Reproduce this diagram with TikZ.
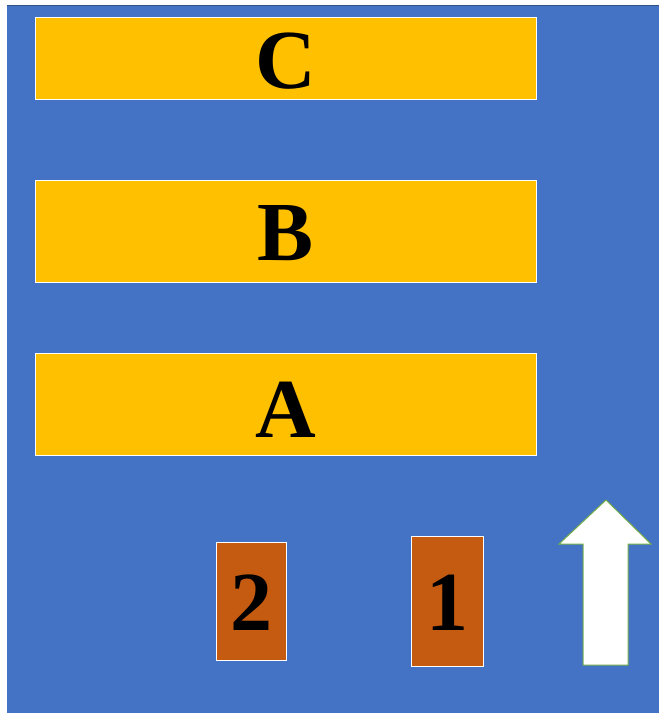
\documentclass[tikz,border=0pt]{standalone}
\usepackage{fontspec}
\setmainfont{Liberation Serif}
\definecolor{bgblue}{HTML}{4472C4}
\definecolor{bargold}{HTML}{FFC000}
\definecolor{boxorange}{HTML}{C55A11}
\definecolor{arrowgreen}{HTML}{70AD47}
\begin{document}
\begin{tikzpicture}[x=1pt,y=-1pt,
  bar/.style={fill=bargold,draw=white,line width=1pt},
  tile/.style={fill=boxorange,draw=white,line width=1pt},
  lbl/.style={font=\fontsize{84}{84}\selectfont\bfseries,text=black,inner sep=0pt}]
\useasboundingbox (0,0) rectangle (659,713);
\fill[bgblue] (7,5) rectangle (659,713);
\draw[bgblue!70!black,line width=1pt] (7,5.5) -- (659,5.5);
\draw[bar] (35,17) rectangle (536,99);
\node[lbl] (c) at (285.5,61) {C};
\draw[bar] (35,180) rectangle (536,282);
\node[lbl] (b) at (285.5,233) {B};
\draw[bar] (35,353) rectangle (536,455);
\node[lbl] (a) at (285.5,410) {A};
\draw[tile] (216,542) rectangle (286,660);
\node[lbl] (two) at (251,603) {2};
\draw[tile] (411,536) rectangle (483,666);
\node[lbl] (one) at (447,603) {1};
\draw[fill=white,draw=arrowgreen,line width=1pt]
  (606,500) -- (651,544) -- (628,544) -- (628,665) -- (583,665) -- (583,544) -- (559,544) -- cycle;
\end{tikzpicture}
\end{document}
